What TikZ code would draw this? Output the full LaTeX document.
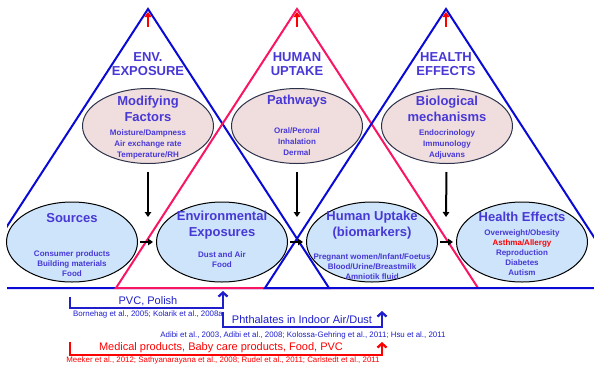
\documentclass[tikz,border=0pt]{standalone}
\usepackage{fontspec}
\setmainfont{Liberation Sans}
\usetikzlibrary{shapes.geometric, arrows.meta}
\definecolor{headblue}{RGB}{72,56,214}
\definecolor{triblue}{RGB}{10,10,215}
\definecolor{tripink}{RGB}{250,20,100}
\definecolor{refblue}{RGB}{30,30,205}
\definecolor{bubpink}{RGB}{240,222,222}
\definecolor{bubblue}{RGB}{205,228,250}
\definecolor{bubedge}{RGB}{45,50,75}
\tikzset{
  tri/.style={line width=2pt, line join=miter},
  topbub/.style={ellipse, draw=bubedge, fill=bubpink, line width=1pt,
    minimum width=131pt, minimum height=75pt, inner sep=0pt},
  lowbub/.style={ellipse, draw=black, fill=bubblue, line width=1pt,
    minimum width=131pt, minimum height=80pt, inner sep=0pt},
  titletxt/.style={text=headblue, font=\bfseries\fontsize{13}{14.5}\selectfont,
    align=center, inner sep=0pt},
  headtxt/.style={text=headblue, font=\bfseries\fontsize{13}{16}\selectfont,
    align=center, inner sep=0pt},
  subtxt/.style={text=headblue, font=\bfseries\fontsize{8}{11}\selectfont,
    align=center, inner sep=0pt},
  smalltxt/.style={text=headblue, font=\bfseries\fontsize{8}{10}\selectfont,
    align=center, inner sep=0pt},
  flowarr/.style={black, line width=2pt, -{Triangle[length=5pt,width=6.5pt]}},
  apexarr/.style={red, line width=2pt, -{Triangle[length=5pt,width=7pt]}},
  brack/.style={line width=2.3pt, -{Straight Barb[length=4pt,width=9pt]}},
  bigref/.style={font=\fontsize{11}{13}\selectfont, inner sep=0pt},
  cite/.style={font=\fontsize{7.9}{9}\selectfont, inner sep=0pt}
}

\begin{document}
\begin{tikzpicture}[x=1pt, y=-1pt]
  \useasboundingbox (0,0) rectangle (594,370);

  % ── Three overlapping triangles ─────────────────────────────────
  \begin{scope}
    \clip (7,0) rectangle (594,370);
    \foreach \ax/\col in {148/triblue, 297/tripink, 446/triblue}
      \draw[tri, draw=\col] (\ax,9) -- (\ax-181,288) -- (\ax+181,288) -- cycle;
  \end{scope}

  \foreach \ax in {148, 297, 446}
    \draw[apexarr] (\ax,27) -- (\ax,12);

  \node[titletxt] (envT) at (148,64) {ENV.\\EXPOSURE};
  \node[titletxt] (humT) at (297,64) {HUMAN\\UPTAKE};
  \node[titletxt] (hltT) at (446,64) {HEALTH\\EFFECTS};

  % ── Upper ellipses ──────────────────────────────────────────────
  \node[topbub] (modif) at (148,126) {};
  \node[topbub] (path)  at (297,126) {};
  \node[topbub] (biol)  at (447,126) {};

  \node[headtxt] (modifT) at (148,109) {Modifying\\Factors};
  \node[subtxt]  (modifS) at (148,144) {Moisture/Dampness\\Air exchange rate\\Temperature/RH};
  \node[headtxt] (pathT)  at (297,101) {Pathways};
  \node[subtxt]  (pathS)  at (297,142) {Oral/Peroral\\Inhalation\\Dermal};
  \node[headtxt] (biolT)  at (447,109) {Biological\\mechanisms};
  \node[subtxt]  (biolS)  at (447,144) {Endocrinology\\Immunology\\Adjuvans};

  % ── Lower ellipses ──────────────────────────────────────────────
  \node[lowbub] (src)    at (72,242)  {};
  \node[lowbub] (envexp) at (222,242) {};
  \node[lowbub] (uptake) at (372,242) {};
  \node[lowbub] (health) at (522,242) {};

  \node[headtxt]  (srcT)    at (72,218)  {Sources};
  \node[smalltxt] (srcS)    at (72,264)  {Consumer products\\Building materials\\Food};
  \node[headtxt]  (envexpT) at (222,225) {Environmental\\Exposures};
  \node[smalltxt] (envexpS) at (222,260) {Dust and Air\\Food};
  \node[headtxt]  (uptakeT) at (372,225) {Human Uptake\\(biomarkers)};
  \node[smalltxt] (uptakeS) at (372,267) {Pregnant women/Infant/Foetus\\Blood/Urine/Breastmilk\\Amniotik fluid};
  \node[headtxt]  (healthT) at (522,217) {Health Effects};
  \node[smalltxt] (healthS) at (522,253) {Overweight/Obesity\\\textcolor{red}{Asthma/Allergy}\\Reproduction\\Diabetes\\Autism};

  % ── Flow arrows ─────────────────────────────────────────────────
  \foreach \up/\x in {modif/148, path/297, biol/446}
    { \coordinate (\up-end) at (\x,217);
      \draw[flowarr, shorten <=8pt] (\up) -- (\up-end); }

  \foreach \a/\b in {src/envexp, envexp/uptake, uptake/health}
    \draw[flowarr, shorten <=2pt, shorten >=3pt] (\a) -- (\b);

  % ── References below the baseline ───────────────────────────────
  \coordinate (pvcA) at (70,297);  \coordinate (pvcB) at (223,291);
  \coordinate (phtA) at (223,312); \coordinate (phtB) at (382,311);
  \coordinate (medA) at (70,342);  \coordinate (medB) at (382,342);

  \draw[brack, refblue] (pvcA) -- ++(0,11) -| (pvcB);
  \draw[brack, refblue] (phtA) -- ++(0,15) -| (phtB);
  \draw[brack, red]     (medA) -- ++(0,13) -| (medB);

  \node[bigref, text=refblue] (pvcL) at (148,301) {PVC, Polish};
  \node[cite, text=refblue]   (pvcC) at (148,314) {Bornehag et al., 2005; Kolarik et al., 2008a};
  \node[bigref, text=refblue] (phtL) at (302,320) {Phthalates in Indoor Air/Dust};
  \node[cite, text=refblue]   (phtC) at (303,335) {Adibi et al., 2003, Adibi et al., 2008; Kolossa-Gehring et al., 2011; Hsu et al., 2011};
  \node[bigref, text=red]     (medL) at (221,348) {Medical products, Baby care products, Food, PVC};
  \node[cite, text=red]       (medC) at (223,360) {Meeker et al., 2012; Sathyanarayana et al., 2008; Rudel et al., 2011; Carlstedt et al., 2011};
\end{tikzpicture}
\end{document}
